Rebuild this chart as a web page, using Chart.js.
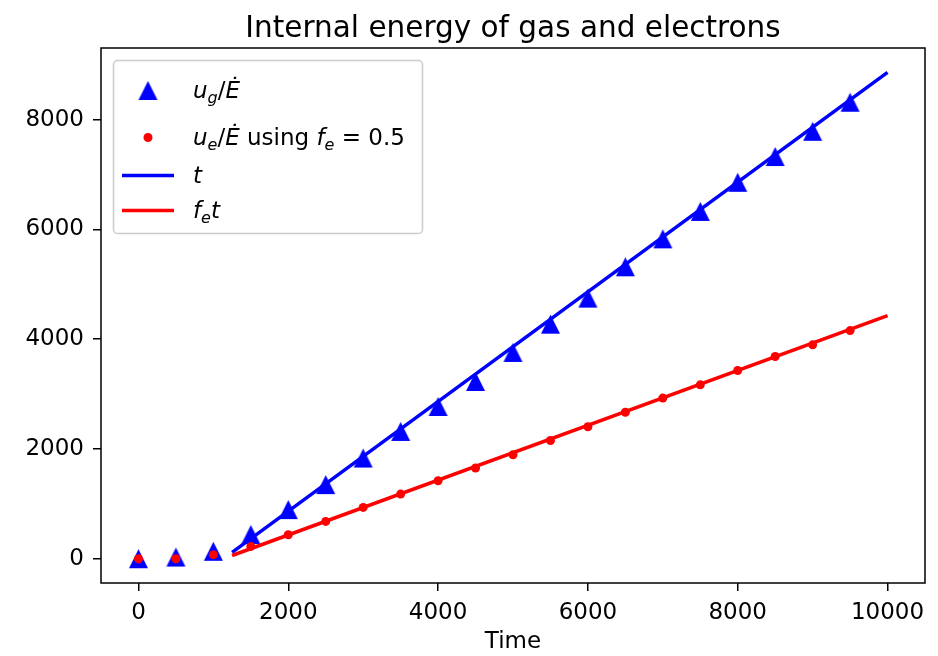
<!DOCTYPE html>
<html lang="en">
<head>
<meta charset="UTF-8" />
<title>Internal energy of gas and electrons</title>
<script src="https://cdn.jsdelivr.net/npm/chart.js"></script>
<style>
  html, body { margin: 0; padding: 0; background: #fff; }
</style>
</head>
<body>
<canvas id="chart" width="938" height="656"></canvas>
<script>
// sampled simulation output
const times = [0, 500, 1000, 1500, 2000, 2500, 3000, 3500, 4000, 4500,
               5000, 5500, 6000, 6500, 7000, 7500, 8000, 8500, 9000, 9500];
const ugValues = [0, 30, 135, 440, 895, 1350, 1835, 2320, 2775, 3230,
                  3760, 4275, 4750, 5320, 5830, 6330, 6860, 7330, 7790, 8320];
const ueValues = [0, 0, 73, 224, 437, 680, 935, 1178, 1420, 1652,
                  1894, 2155, 2405, 2670, 2927, 3169, 3430, 3685, 3898, 4158];

// reference lines t and f_e*t (offset by the heating start)
const lineTimes = [1250, 10000];
const tLine = [115, 8865];
const feLine = [58, 4432];

const xTicks = [0, 2000, 4000, 6000, 8000, 10000];
const yTicks = [0, 2000, 4000, 6000, 8000];

const FONT = '"DejaVu Sans", sans-serif';
const BLUE = '#0000ff';
const RED = '#ff0000';

// matplotlib-style "^" marker
function makeTriangle(size) {
  const c = document.createElement('canvas');
  c.width = size + 2; c.height = size + 2;
  const g = c.getContext('2d');
  g.fillStyle = BLUE;
  g.beginPath();
  g.moveTo(c.width / 2, 1);
  g.lineTo(1, size + 1);
  g.lineTo(size + 1, size + 1);
  g.closePath();
  g.fill();
  return c;
}
const triangle = makeTriangle(19);

function pts(xs, ys) {
  return xs.map((x, i) => ({ x: x, y: ys[i] }));
}

// legend entries, mathtext-ish: i = italic, s = subscript
const legendRows = [
  { kind: 'tri', segs: [{t: 'u', i: 1}, {t: 'g', i: 1, s: 1}, {t: '/'}, {t: 'Ė', i: 1}] },
  { kind: 'dot', segs: [{t: 'u', i: 1}, {t: 'e', i: 1, s: 1}, {t: '/'}, {t: 'Ė', i: 1},
                        {t: ' using '}, {t: 'f', i: 1}, {t: 'e', i: 1, s: 1}, {t: ' = '}, {t: '0.5'}] },
  { kind: 'line', color: BLUE, segs: [{t: 't', i: 1}] },
  { kind: 'line', color: RED, segs: [{t: 'f', i: 1}, {t: 'e', i: 1, s: 1}, {t: 't', i: 1}] }
];
const legendBaselines = [98, 145, 183, 218];

function drawRich(ctx, segs, x, y) {
  ctx.textBaseline = 'alphabetic';
  ctx.textAlign = 'left';
  ctx.fillStyle = '#000';
  segs.forEach(s => {
    const size = s.s ? 16 : 23;
    ctx.font = (s.i ? 'italic ' : '') + size + 'px ' + FONT;
    ctx.fillText(s.t, x, y + (s.s ? 5 : 0));
    x += ctx.measureText(s.t).width;
  });
}

const decorations = {
  id: 'decorations',
  afterDatasetsDraw(chart) {
    const { ctx, chartArea: a } = chart;
    ctx.save();
    ctx.strokeStyle = '#000';
    ctx.lineWidth = 1.5;
    ctx.strokeRect(a.left, a.top, a.right - a.left, a.bottom - a.top);
    ctx.restore();
  },
  afterDraw(chart) {
    const { ctx, chartArea: a } = chart;
    ctx.save();
    // title
    ctx.fillStyle = '#000';
    ctx.font = '29.5px ' + FONT;
    ctx.textAlign = 'center';
    ctx.textBaseline = 'alphabetic';
    ctx.fillText('Internal energy of gas and electrons', (a.left + a.right) / 2, 37);

    // legend box
    const bx = 113.5, by = 60.5, bw = 309, bh = 173, r = 4;
    ctx.beginPath();
    ctx.moveTo(bx + r, by);
    ctx.arcTo(bx + bw, by, bx + bw, by + bh, r);
    ctx.arcTo(bx + bw, by + bh, bx, by + bh, r);
    ctx.arcTo(bx, by + bh, bx, by, r);
    ctx.arcTo(bx, by, bx + bw, by, r);
    ctx.closePath();
    ctx.fillStyle = 'rgba(255,255,255,0.8)';
    ctx.fill();
    ctx.strokeStyle = '#cccccc';
    ctx.lineWidth = 1.5;
    ctx.stroke();

    legendRows.forEach((row, k) => {
      const yb = legendBaselines[k];
      const cy = yb - 7.5;
      if (row.kind === 'tri') {
        ctx.drawImage(triangle, 148 - triangle.width / 2, cy - triangle.height / 2);
      } else if (row.kind === 'dot') {
        ctx.fillStyle = RED;
        ctx.beginPath();
        ctx.arc(148, cy, 4.5, 0, Math.PI * 2);
        ctx.fill();
      } else {
        ctx.strokeStyle = row.color;
        ctx.lineWidth = 3.5;
        ctx.beginPath();
        ctx.moveTo(122, cy);
        ctx.lineTo(174, cy);
        ctx.stroke();
      }
      drawRich(ctx, row.segs, 193, yb);
    });
    ctx.restore();
  }
};

const plain = v => String(v);

new Chart(document.getElementById('chart'), {
  type: 'scatter',
  data: {
    datasets: [
      { label: 'f_e t', data: pts(lineTimes, feLine), showLine: true, borderColor: RED,
        borderWidth: 3.5, pointRadius: 0, order: 0 },
      { label: 't', data: pts(lineTimes, tLine), showLine: true, borderColor: BLUE,
        borderWidth: 3.5, pointRadius: 0, order: 1 },
      { label: 'u_e/E using f_e = 0.5', data: pts(times, ueValues), showLine: false,
        pointStyle: 'circle', pointRadius: 4.5, backgroundColor: RED, borderWidth: 0, order: 2 },
      { label: 'u_g/E', data: pts(times, ugValues), showLine: false,
        pointStyle: triangle, order: 3 }
    ]
  },
  options: {
    responsive: false,
    animation: false,
    layout: { padding: { left: 0, right: 13, top: 48, bottom: 0 } },
    plugins: {
      legend: { display: false },
      title: { display: false },
      tooltip: { enabled: false }
    },
    scales: {
      x: {
        type: 'linear',
        min: -500,
        max: 10500,
        afterBuildTicks: s => { s.ticks = xTicks.map(v => ({ value: v })); },
        afterFit: s => { s.height = 73; },
        grid: { drawOnChartArea: false, drawTicks: true, tickLength: 8, color: '#000', lineWidth: 1.5 },
        border: { display: false },
        ticks: { color: '#000', font: { family: FONT, size: 23 }, padding: 8, maxRotation: 0, callback: plain },
        title: { display: true, text: 'Time', color: '#000', font: { family: FONT, size: 23 }, padding: { top: 4, bottom: 0 } }
      },
      y: {
        type: 'linear',
        min: -443,
        max: 9308,
        afterBuildTicks: s => { s.ticks = yTicks.map(v => ({ value: v })); },
        afterFit: s => { s.width = 101; },
        grid: { drawOnChartArea: false, drawTicks: true, tickLength: 8, color: '#000', lineWidth: 1.5 },
        border: { display: false },
        ticks: { color: '#000', font: { family: FONT, size: 23 }, padding: 9, callback: plain }
      }
    }
  },
  plugins: [decorations]
});
</script>
</body>
</html>
